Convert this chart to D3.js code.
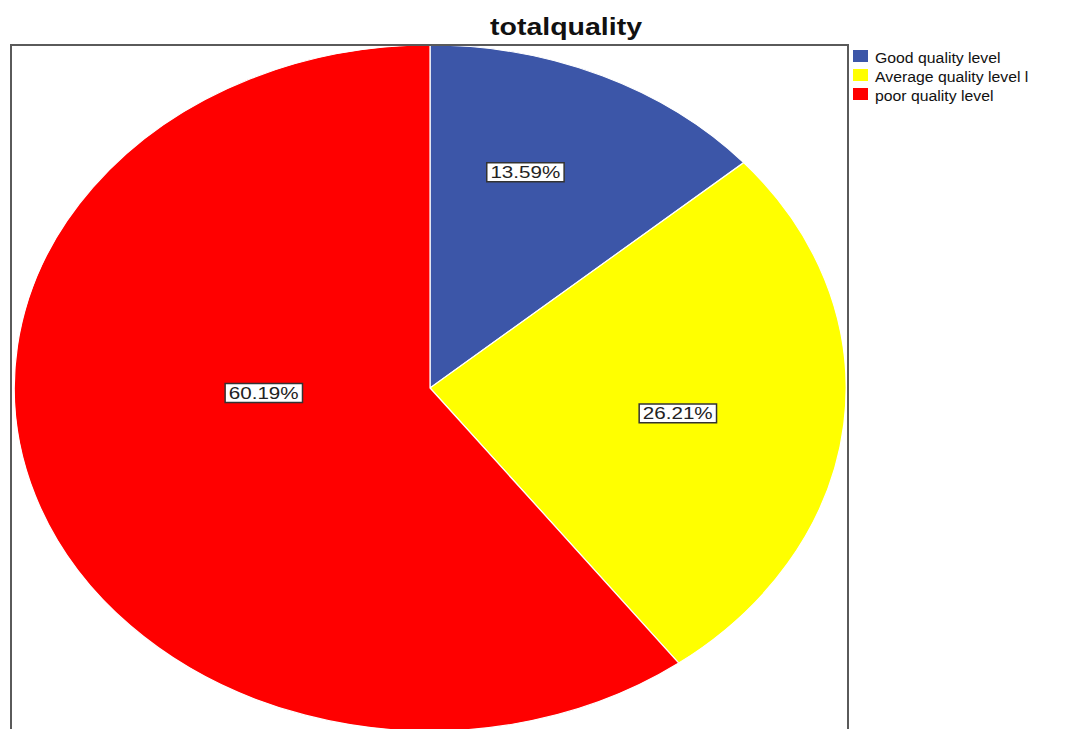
<!DOCTYPE html>
<html lang="en">
<head>
  <meta charset="UTF-8">
  <title>totalquality</title>
  <script src="https://d3js.org/d3.v7.min.js"></script>
</head>
<body style="margin: 0; background: #fff;">
<div id="chart"></div>
<script>
  // data
  const categories = ["Good quality level", "Average quality level l", "poor quality level"];
  const percents = [13.59, 26.21, 60.19];
  const colors = ["#3c56a8", "#ffff00", "#ff0000"];

  // label placement (fraction of radius, angle in degrees from 12 o'clock)
  const labelPlace = [
    { r: 0.67, a: 20 },
    { r: 0.60, a: 97 },
    { r: 0.40, a: 268 }
  ];

  const width = 1069, height = 729;
  const cx = 430, cy = 388;
  const rx = 416, ry = 343;
  const stretch = rx / ry; // the source picture is stretched sideways

  const svg = d3.select("#chart").append("svg")
    .attr("width", width)
    .attr("height", height)
    .style("font-family", "Arial, 'Liberation Sans', sans-serif");

  // title
  svg.append("text")
    .attr("transform", `translate(566,35) scale(${stretch},1)`)
    .attr("text-anchor", "middle")
    .attr("font-weight", "bold")
    .attr("font-size", 23.5)
    .attr("fill", "#111")
    .text("totalquality");

  // pie, drawn on a unit circle and stretched to the ellipse
  const pie = d3.pie().sort(null).value(d => d);
  const arcs = pie(percents);
  const arc = d3.arc().innerRadius(0).outerRadius(1);

  const pieG = svg.append("g")
    .attr("transform", `translate(${cx},${cy}) scale(${rx},${ry})`);

  pieG.selectAll("path")
    .data(arcs)
    .enter().append("path")
    .attr("d", arc)
    .attr("fill", (d, i) => colors[i])
    .attr("stroke", "#fff")
    .attr("stroke-width", 1.2)
    .attr("vector-effect", "non-scaling-stroke");

  // frame
  svg.append("rect")
    .attr("x", 11)
    .attr("y", 45)
    .attr("width", 837)
    .attr("height", 720)
    .attr("fill", "none")
    .attr("stroke", "#5a5a5a")
    .attr("stroke-width", 2);

  // percentage labels
  const fmt = d => d.toFixed(2) + "%";
  labelPlace.forEach((p, i) => {
    const a = p.a * Math.PI / 180;
    const x = cx + rx * p.r * Math.sin(a);
    const y = cy - ry * p.r * Math.cos(a);
    const g = svg.append("g").attr("transform", `translate(${x},${y}) scale(${stretch},1)`);
    const t = g.append("text")
      .attr("text-anchor", "middle")
      .attr("dy", "0.36em")
      .attr("font-size", 17)
      .attr("fill", "#222")
      .text(fmt(percents[i]));
    const bb = t.node().getBBox();
    g.insert("rect", "text")
      .attr("x", bb.x - 3)
      .attr("y", bb.y)
      .attr("width", bb.width + 6)
      .attr("height", bb.height)
      .attr("fill", "#fff")
      .attr("stroke", "#333")
      .attr("stroke-width", 1.5)
      .attr("vector-effect", "non-scaling-stroke");
  });

  // legend
  const legend = svg.append("g").attr("transform", "translate(853,50)");
  categories.forEach((c, i) => {
    const row = legend.append("g").attr("transform", `translate(0,${i * 19})`);
    row.append("rect")
      .attr("width", 15)
      .attr("height", 12)
      .attr("fill", colors[i]);
    row.append("text")
      .attr("transform", "translate(22,12.5) scale(1.02,1)")
      .attr("font-size", 15.5)
      .attr("fill", "#111")
      .text(c);
  });
</script>
</body>
</html>
